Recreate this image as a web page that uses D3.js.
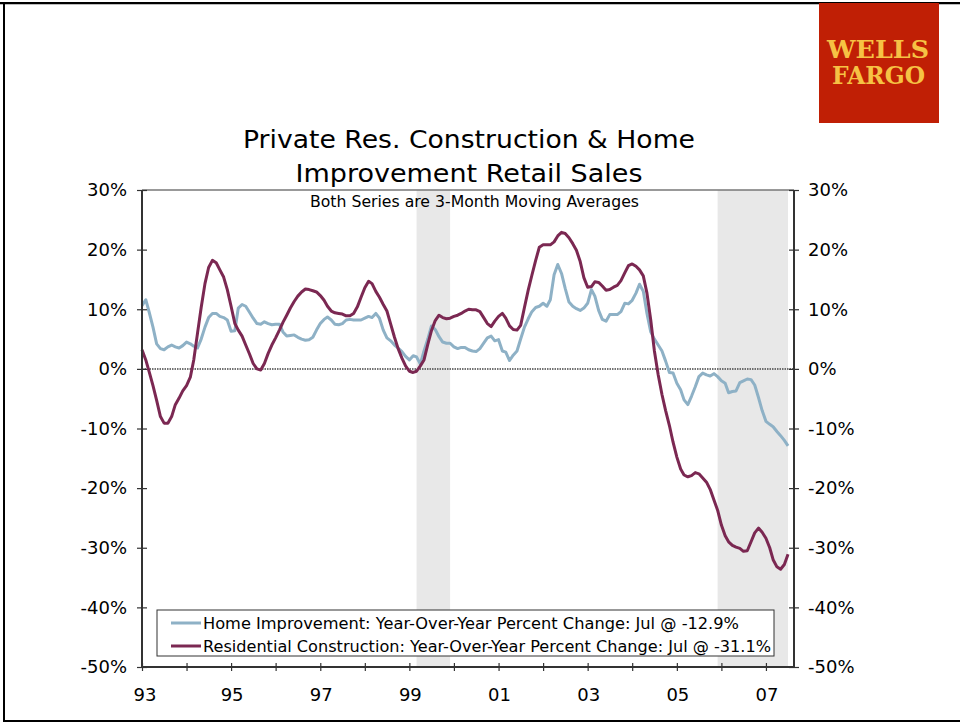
<!DOCTYPE html>
<html>
<head>
<meta charset="utf-8">
<script src="https://cdn.jsdelivr.net/npm/d3@7"></script>
<style>
  body { margin: 0; background: #fff; }
  svg { display: block; }
  text { font-family: "DejaVu Sans", Verdana, sans-serif; fill: #000; }
</style>
</head>
<body>
<script>
// monthly values, Jan 1993 .. Jul 2007 (year-over-year % change, 3-mo avg)
var startMonth = '1993-01';

var homeImprovement = [
  10.6, 11.6, 9.5, 7.0, 4.2, 3.4, 3.2, 3.7, 4.0, 3.7, 3.5, 3.9,
  4.5, 4.2, 3.8, 3.5, 5.0, 7.0, 8.6, 9.3, 9.3, 8.8, 8.6, 8.2,
  6.3, 6.4, 10.2, 10.8, 10.5, 9.5, 8.5, 7.6, 7.5, 7.9, 7.6, 7.4,
  7.5, 7.5, 6.2, 5.5, 5.6, 5.7, 5.3, 5.0, 4.8, 4.9, 5.3, 6.5,
  7.6, 8.3, 8.7, 8.2, 7.5, 7.4, 7.6, 8.2, 8.3, 8.2, 8.2, 8.2,
  8.5, 8.8, 8.6, 9.3, 8.5, 6.5, 5.2, 4.7, 4.0, 3.5, 2.9, 2.1,
  1.5, 2.2, 2.0, 0.8, 3.0, 5.0, 7.2, 6.6, 5.4, 4.5, 4.3, 4.3,
  3.7, 3.4, 3.6, 3.6, 3.2, 3.0, 2.9, 3.4, 4.3, 5.2, 5.5, 4.7,
  4.9, 3.0, 2.8, 1.4, 2.3, 3.0, 5.0, 7.0, 8.4, 9.6, 10.3, 10.5,
  11.0, 10.5, 11.6, 15.8, 17.5, 16.0, 13.5, 11.2, 10.5, 10.1, 9.8, 10.2,
  11.0, 13.3, 12.2, 9.8, 8.3, 8.0, 9.1, 9.1, 9.1, 9.6, 11.0, 10.9,
  11.5, 12.7, 14.2, 13.0, 9.3, 6.2, 5.0, 4.0, 3.0, 1.3, -0.6, -0.7,
  -2.4, -3.5, -5.2, -6.0, -4.6, -3.0, -1.3, -0.7, -1.0, -1.2, -0.8, -1.3,
  -2.0, -2.4, -4.0, -3.8, -3.7, -2.3, -2.0, -1.7, -1.8, -2.7, -4.8, -7.0,
  -8.8, -9.3, -9.7, -10.5, -11.2, -12.0, -12.9
];

var residentialConstruction = [
  3.2, 1.5, -0.5, -2.8, -5.3, -8.0, -9.1, -9.1, -8.0, -6.0, -4.9, -3.7,
  -2.8, -1.4, 1.5, 6.0, 10.3, 14.3, 17.0, 18.2, 17.8, 16.6, 15.4, 13.3,
  10.5, 7.6, 6.5, 5.5, 4.0, 2.5, 0.9, 0.0, -0.2, 0.9, 2.6, 4.0,
  5.2, 6.5, 7.8, 9.0, 10.2, 11.3, 12.2, 12.9, 13.4, 13.3, 13.1, 12.9,
  12.3, 11.5, 10.5, 9.7, 9.4, 9.3, 9.2, 8.9, 8.9, 9.3, 10.4, 12.0,
  13.6, 14.7, 14.3, 13.0, 12.0, 10.8, 9.7, 7.5, 5.3, 3.4, 1.8, 0.5,
  -0.4, -0.6, -0.4, 0.5, 1.5, 4.1, 6.4, 8.1, 9.0, 8.6, 8.4, 8.5,
  8.8, 9.0, 9.3, 9.7, 10.0, 9.9, 9.9, 9.6, 8.6, 7.6, 7.1, 8.0,
  8.8, 9.3, 8.5, 7.2, 6.6, 6.5, 7.3, 10.3, 13.2, 15.7, 18.2, 20.4,
  20.8, 20.8, 20.8, 21.3, 22.3, 22.9, 22.7, 22.0, 21.0, 19.9, 18.0, 15.3,
  13.7, 13.8, 14.6, 14.5, 13.9, 13.2, 13.3, 13.7, 14.0, 14.8, 16.1, 17.3,
  17.6, 17.2, 16.6, 15.6, 12.7, 8.2, 3.0, -1.0, -4.3, -7.0, -9.5, -12.3,
  -14.8, -16.8, -17.8, -18.1, -17.9, -17.4, -17.6, -18.3, -19.0, -20.2, -22.0, -23.7,
  -26.2, -28.0, -29.0, -29.6, -29.9, -30.1, -30.6, -30.5, -29.0, -27.5, -26.7, -27.4,
  -28.4, -30.0, -32.0, -33.2, -33.6, -32.8, -31.1
];

var shadeStart = ['1999-03', '2005-12'];
var shadeEnd = ['1999-12', '2007-07'];

var yTicks = [30, 20, 10, 0, -10, -20, -30, -40, -50];
var xLabels = ['93', '95', '97', '99', '01', '03', '05', '07'];

var titleLines = ['Private Res. Construction & Home', 'Improvement Retail Sales'];
var subtitle = 'Both Series are 3-Month Moving Averages';
var legendLabels = [
  'Home Improvement: Year-Over-Year Percent Change: Jul @ -12.9%',
  'Residential Construction: Year-Over-Year Percent Change: Jul @ -31.1%'
];
var seriesColors = ['#8eb1c6', '#7b2852'];

// ---- layout ----
var W = 960, H = 723;
var plot = { left: 142, right: 794, top: 190, bottom: 667 };

var parseMonth = d3.timeParse('%Y-%m');
var start = parseMonth(startMonth);

function toSeries(values) {
  return values.map(function (v, i) { return { date: d3.timeMonth.offset(start, i), value: v }; });
}
var series = [toSeries(homeImprovement), toSeries(residentialConstruction)];

var svg = d3.select('body').append('svg')
  .attr('width', W)
  .attr('height', H);

// outer frame
svg.append('line').attr('x1', 0).attr('x2', W).attr('y1', 3).attr('y2', 3)
  .attr('stroke', '#000').attr('stroke-width', 2);
svg.append('line').attr('x1', 0).attr('x2', W).attr('y1', 4.5).attr('y2', 4.5)
  .attr('stroke', '#bbb').attr('stroke-width', 1);
svg.append('line').attr('x1', 4).attr('x2', 4).attr('y1', 2).attr('y2', 722)
  .attr('stroke', '#000').attr('stroke-width', 2);
svg.append('line').attr('x1', 3).attr('x2', W).attr('y1', 721).attr('y2', 721)
  .attr('stroke', '#000').attr('stroke-width', 2);

// logo
var logo = svg.append('g').attr('transform', translation(819, 3));
logo.append('rect').attr('width', 120).attr('height', 120).attr('fill', '#c01f05');
logo.selectAll('text').data(['WELLS', 'FARGO']).enter().append('text')
  .attr('x', function (d, i) { return i ? 13 : 8; })
  .attr('y', function (d, i) { return i ? 81 : 55; })
  .attr('font-weight', 'bold')
  .attr('font-size', 25)
  .attr('textLength', function (d, i) { return i ? 93 : 102; })
  .attr('lengthAdjust', 'spacingAndGlyphs')
  .style('font-family', '"DejaVu Serif", serif')
  .style('fill', '#f6c244')
  .text(function (d) { return d; });

// scales
var x = d3.scaleTime()
  .domain([new Date(1993, 0, 1), new Date(2007, 7, 19)])
  .range([plot.left, plot.right]);
var y = d3.scaleLinear()
  .domain([-50, 30])
  .range([plot.bottom, plot.top]);

// title
var titleWidths = [452, 347];
svg.selectAll('.title').data(titleLines).enter().append('text')
  .attr('class', 'title')
  .attr('x', 469)
  .attr('y', function (d, i) { return 148 + i * 33.5; })
  .attr('text-anchor', 'middle')
  .attr('font-size', 25)
  .attr('textLength', function (d, i) { return titleWidths[i]; })
  .attr('lengthAdjust', 'spacingAndGlyphs')
  .text(function (d) { return d; });

// shaded periods
svg.append('g').selectAll('rect').data(shadeStart).enter().append('rect')
  .attr('x', function (d) { return x(parseMonth(d)); })
  .attr('y', plot.top)
  .attr('width', function (d, i) { return x(parseMonth(shadeEnd[i])) - x(parseMonth(d)); })
  .attr('height', plot.bottom - plot.top)
  .attr('fill', '#e8e8e8');

// top border and zero line
svg.append('line').attr('x1', plot.left).attr('x2', plot.right)
  .attr('y1', plot.top).attr('y2', plot.top)
  .attr('stroke', '#777').attr('stroke-width', 1.5);
svg.append('line').attr('x1', plot.left).attr('x2', plot.right)
  .attr('y1', y(0)).attr('y2', y(0))
  .attr('stroke', '#444').attr('stroke-width', 1.5).attr('stroke-dasharray', '1.5,1');

svg.append('text')
  .attr('x', 474.5).attr('y', 207)
  .attr('text-anchor', 'middle')
  .attr('font-size', 15)
  .attr('textLength', 329)
  .attr('lengthAdjust', 'spacingAndGlyphs')
  .text(subtitle);

// lines
var line = d3.line()
  .x(function (d) { return x(d.date); })
  .y(function (d) { return y(d.value); });

svg.append('g').selectAll('path').data(series).enter().append('path')
  .attr('d', line)
  .attr('fill', 'none')
  .attr('stroke', function (d, i) { return seriesColors[i]; })
  .attr('stroke-width', 3)
  .attr('stroke-linejoin', 'round');

// axes
var axisColor = '#333';
var leftAxis = svg.append('g')
  .attr('transform', translation(plot.left, 0))
  .call(d3.axisLeft(y).tickValues(yTicks).tickSize(5).tickPadding(10)
    .tickFormat(function (d) { return d + '%'; }));
var rightAxis = svg.append('g')
  .attr('transform', translation(plot.right, 0))
  .call(d3.axisRight(y).tickValues(yTicks).tickSize(5).tickPadding(9)
    .tickFormat(function (d) { return d + '%'; }));
var bottomAxis = svg.append('g')
  .attr('transform', translation(0, plot.bottom))
  .call(d3.axisBottom(x).ticks(d3.timeYear.every(1)).tickSize(4).tickFormat(''));

[leftAxis, rightAxis, bottomAxis].forEach(function (a) {
  a.select('.domain').attr('stroke', axisColor).attr('stroke-width', 2);
  a.selectAll('.tick line').attr('stroke', axisColor).attr('stroke-width', 1.2);
  a.selectAll('.tick text').attr('font-size', 18).attr('fill', '#000')
    .attr('font-family', '"DejaVu Sans", sans-serif');
});
leftAxis.select('.domain').attr('d', 'M0,' + plot.top + 'V' + plot.bottom);
rightAxis.select('.domain').attr('d', 'M0,' + plot.top + 'V' + plot.bottom);
bottomAxis.select('.domain').attr('d', 'M' + plot.left + ',0H' + plot.right);
leftAxis.selectAll('.tick line').attr('x1', 5);
rightAxis.selectAll('.tick line').attr('x1', -5);
bottomAxis.selectAll('.tick line').attr('y1', -4);

// x labels
svg.append('g').selectAll('text').data(xLabels).enter().append('text')
  .attr('x', function (d) {
    var yr = +d < 50 ? 2000 + (+d) : 1900 + (+d);
    return x(new Date(yr, 0, 1)) + (yr === 1993 ? 3 : 1);
  })
  .attr('y', 701)
  .attr('text-anchor', 'middle')
  .attr('font-size', 18)
  .text(function (d) { return d; });

// legend
var legendWidths = [536, 568];
var legend = svg.append('g');
legend.append('rect')
  .attr('x', 157).attr('y', 610).attr('width', 617).attr('height', 46)
  .attr('fill', '#fff').attr('stroke', '#333').attr('stroke-width', 1);
var items = legend.selectAll('.item').data(legendLabels).enter().append('g')
  .attr('transform', function (d, i) { return translation(0, 623 + i * 23); });
items.append('line')
  .attr('x1', 171).attr('x2', 201)
  .attr('stroke', function (d, i) { return seriesColors[i]; })
  .attr('stroke-width', 3);
items.append('text')
  .attr('x', 203).attr('y', 6)
  .attr('font-size', 16)
  .attr('textLength', function (d, i) { return legendWidths[i]; })
  .attr('lengthAdjust', 'spacingAndGlyphs')
  .text(function (d) { return d; });

function translation(x, y) {
  return 'translate(' + x + ',' + y + ')';
}
</script>
</body>
</html>
